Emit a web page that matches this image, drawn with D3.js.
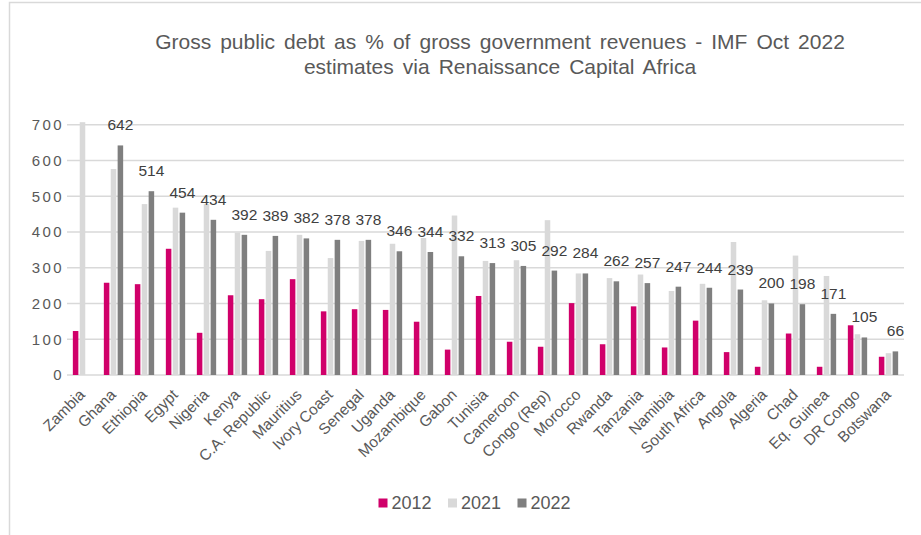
<!DOCTYPE html>
<html>
<head>
<meta charset="utf-8">
<script src="https://cdn.jsdelivr.net/npm/d3@7"></script>
<style>
  body { margin: 0; background: #fff; }
  text { font-family: "Liberation Sans", Arial, sans-serif; }
</style>
</head>
<body>
<svg width="921" height="535"></svg>
<script>
var countries = ["Zambia", "Ghana", "Ethiopia", "Egypt", "Nigeria", "Kenya", "C.A. Republic", "Mauritius",
  "Ivory Coast", "Senegal", "Uganda", "Mozambique", "Gabon", "Tunisia", "Cameroon", "Congo (Rep)",
  "Morocco", "Rwanda", "Tanzania", "Namibia", "South Africa", "Angola", "Algeria", "Chad",
  "Eq. Guinea", "DR Congo", "Botswana"];
var v2012 = [123, 258, 254, 353, 118, 223, 212, 268, 178, 184, 182, 149, 71, 221, 93, 79,
  201, 86, 192, 77, 152, 64, 23, 116, 23, 139, 51];
var v2021 = [707, 576, 478, 468, 478, 398, 347, 392, 327, 375, 367, 383, 446, 319, 321, 433,
  284, 271, 281, 235, 255, 372, 209, 334, 277, 114, 61];
var v2022 = [null, 642, 514, 454, 434, 392, 389, 382, 378, 378, 346, 344, 332, 313, 305, 292,
  284, 262, 257, 247, 244, 239, 200, 198, 171, 105, 66];
var years = ["2012", "2021", "2022"];
var colors = ["#D0006A", "#D9D9D9", "#7F7F7F"];
var yTicks = [0, 100, 200, 300, 400, 500, 600, 700];
var titleLines = ["Gross public debt as % of gross government revenues - IMF Oct 2022",
  "estimates via Renaissance Capital Africa"];

var svg = d3.select("svg");
var plot = { left: 67, right: 904, top: 124.7, bottom: 375 };

var series = [v2012, v2021, v2022];
var rows = countries.map(function(c, i) {
  return { country: c, values: series.map(function(s, j) { return { year: years[j], value: s[i], idx: j }; }) };
});

// frame around the chart
svg.append("path")
    .attr("d", "M9.5,535V2.5H921")
    .attr("fill", "none")
    .attr("stroke", "#d9d9d9")
    .attr("stroke-width", 1.5);

// title
svg.append("text")
    .attr("x", 500)
    .attr("y", 48.5)
    .attr("text-anchor", "middle")
    .attr("font-size", "21px")
    .attr("word-spacing", "3.2px")
    .attr("fill", "#595959")
    .selectAll("tspan")
    .data(titleLines).enter()
    .append("tspan")
    .attr("x", 500)
    .attr("dy", function(d, i) { return i ? 25.5 : 0; })
    .text(function(d) { return d; });

var x = d3.scaleBand()
    .domain(countries)
    .range([plot.left, plot.right])
    .paddingInner(0.377)
    .paddingOuter(0.1885);

var x1 = d3.scaleBand()
    .domain(years)
    .range([0, x.bandwidth()])
    .paddingInner(0.2);

var y = d3.scaleLinear().domain([0, 700]).range([plot.bottom, plot.top]);

// gridlines
svg.append("g")
    .selectAll("line")
    .data(yTicks).enter()
    .append("line")
    .attr("x1", plot.left)
    .attr("x2", plot.right)
    .attr("y1", function(d) { return y(d); })
    .attr("y2", function(d) { return y(d); })
    .attr("stroke", "#d9d9d9")
    .attr("stroke-width", 1.5);

// y axis labels
svg.append("g")
    .selectAll("text")
    .data(yTicks).enter()
    .append("text")
    .attr("x", 64)
    .attr("y", function(d) { return y(d); })
    .attr("dy", "0.36em")
    .attr("text-anchor", "end")
    .attr("font-size", "15px")
    .attr("letter-spacing", "2.4px")
    .attr("fill", "#595959")
    .text(function(d) { return d; });

// bars
var groups = svg.append("g")
  .selectAll("g")
  .data(rows).enter()
  .append("g")
    .attr("transform", function(d) { return "translate(" + x(d.country) + ",0)"; });

groups.selectAll("rect")
    .data(function(d) { return d.values.filter(function(v) { return v.value != null; }); })
    .enter().append("rect")
    .attr("x", function(d) { return x1(d.year); })
    .attr("width", x1.bandwidth())
    .attr("y", function(d) { return y(d.value); })
    .attr("height", function(d) { return y(0) - y(d.value); })
    .attr("fill", function(d) { return colors[d.idx]; });

// 2022 data labels
groups.filter(function(d) { return d.values[2].value != null; })
  .append("text")
    .attr("x", x1("2022") + x1.bandwidth() / 2)
    .attr("y", function(d) { return y(d.values[2].value) - 15; })
    .attr("text-anchor", "middle")
    .attr("font-size", "15.5px")
    .attr("fill", "#404040")
    .text(function(d) { return d.values[2].value; });

// x axis labels
svg.append("g")
    .selectAll("text")
    .data(countries).enter()
    .append("text")
    .attr("transform", function(d) {
      return "translate(" + (x(d) + x.bandwidth() / 2 - 0.5) + "," + 392 + ") rotate(-45)";
    })
    .attr("text-anchor", "end")
    .attr("dy", "0.35em")
    .attr("font-size", "15.4px")
    .attr("fill", "#595959")
    .text(function(d) { return d; });

// legend
var legend = svg.append("g")
  .selectAll("g")
  .data(years).enter()
  .append("g")
    .attr("transform", function(d, i) { return "translate(" + (378.5 + i * 69.5) + ",498.5)"; });

legend.append("rect")
    .attr("width", 9)
    .attr("height", 9)
    .attr("fill", function(d, i) { return colors[i]; });

legend.append("text")
    .attr("x", 13)
    .attr("y", 4.5)
    .attr("dy", "0.36em")
    .attr("font-size", "18px")
    .attr("fill", "#595959")
    .text(function(d) { return d; });
</script>
</body>
</html>
